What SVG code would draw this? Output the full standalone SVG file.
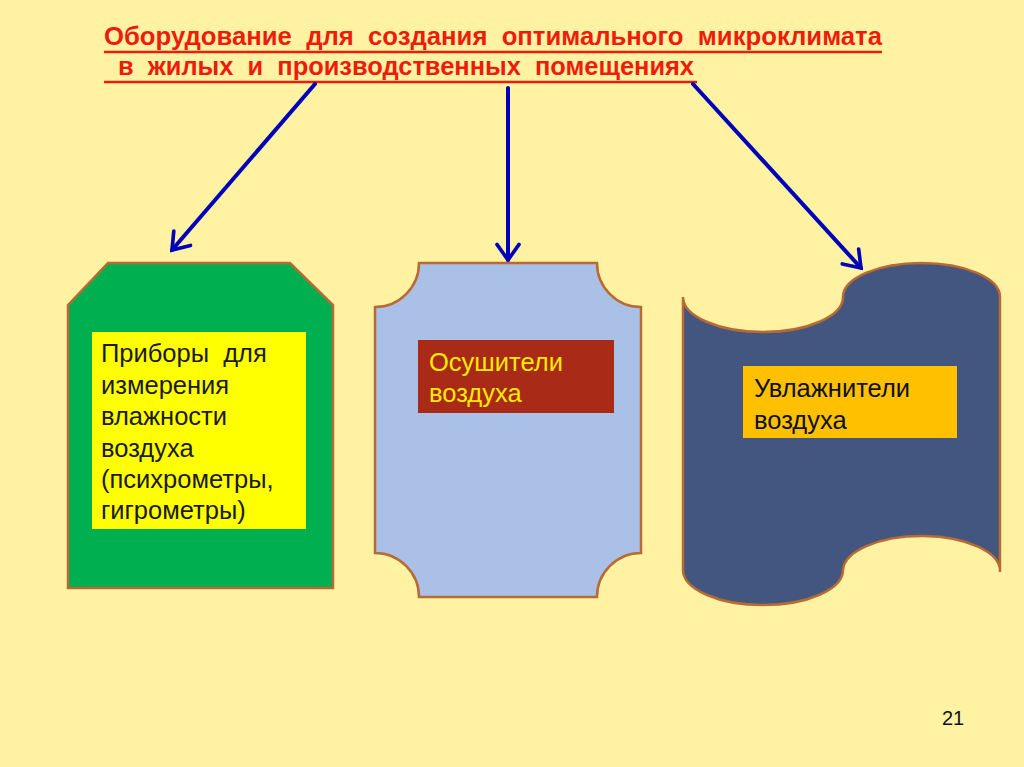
<svg xmlns="http://www.w3.org/2000/svg" width="1024" height="767" viewBox="0 0 1024 767">
<style>
.title{font-family:"Liberation Sans Narrow","Arial Narrow","Liberation Sans",sans-serif;font-weight:bold;font-size:25px;fill:#ee1c0c;white-space:pre}
.body{font-family:"Liberation Sans",Arial,sans-serif;font-size:25.5px;white-space:pre}
.shape{stroke:#b86a34;stroke-width:2.5}
.conn{stroke:#0000bb;stroke-width:4;fill:none;stroke-linecap:round}
</style>
<defs>
<marker id="ah" viewBox="0 0 20 20" refX="17" refY="10" markerWidth="6.5" markerHeight="6.5" markerUnits="strokeWidth" orient="auto">
<path d="M5,1.5 L17,10 L5,18.5" fill="none" stroke="#0000bb" stroke-width="2.8" stroke-linecap="round" stroke-linejoin="miter"/>
</marker>
</defs>
<rect width="1024" height="767" fill="#fff2a2"/>
<g id="title">
<text class="title" x="104" y="45" textLength="778" lengthAdjust="spacingAndGlyphs">Оборудование  для  создания  оптимального  микроклимата</text>
<line x1="104" y1="52" x2="882" y2="52" stroke="#ee1c0c" stroke-width="2.5"/>
<text class="title" x="118" y="75" textLength="576" lengthAdjust="spacingAndGlyphs">в  жилых  и  производственных  помещениях</text>
<line x1="104" y1="82" x2="697" y2="82" stroke="#ee1c0c" stroke-width="2.5"/>
</g>
<g id="connectors">
<line class="conn" x1="315" y1="84" x2="172" y2="250" marker-end="url(#ah)"/>
<line class="conn" x1="508" y1="88" x2="508" y2="260" marker-end="url(#ah)"/>
<line class="conn" x1="693" y1="84" x2="861" y2="268" marker-end="url(#ah)"/>
</g>
<g id="node-pribory">
<polygon class="shape" points="68,305 108,263 290,263 333,305 333,588 68,588" fill="#00b050"/>
<rect x="92" y="332" width="214" height="197" fill="#ffff00"/>
<text class="body" fill="#1a1a1a"><tspan x="101" y="362">Приборы  для</tspan><tspan x="101" y="394">измерения</tspan><tspan x="101" y="425">влажности</tspan><tspan x="101" y="457">воздуха</tspan><tspan x="101" y="488">(психрометры,</tspan><tspan x="101" y="519">гигрометры)</tspan></text>
</g>
<g id="node-osushiteli">
<path class="shape" fill="#abc0e6" d="M419,263 L597,263 A44,44 0 0 0 641,307 L641,553 A44,44 0 0 0 597,597 L419,597 A44,44 0 0 0 375,553 L375,307 A44,44 0 0 0 419,263 Z"/>
<rect x="418" y="340" width="196" height="73" fill="#a82a17"/>
<text class="body" fill="#ffea00"><tspan x="429" y="371">Осушители</tspan><tspan x="429" y="402">воздуха</tspan></text>
</g>
<g id="node-uvlazhniteli">
<path class="shape" fill="#425680" d="M683,297 A80,35 0 0 0 843,297 A78.5,34 0 0 1 1000,297 L1000,572 A78.5,35 0 0 0 843,570 A80,35 0 0 1 683,570 Z"/>
<rect x="743" y="366" width="214" height="72" fill="#ffc000"/>
<text class="body" fill="#111"><tspan x="754" y="397">Увлажнители</tspan><tspan x="754" y="429">воздуха</tspan></text>
</g>
<text class="body" x="942" y="725" fill="#111" style="font-size:20px">21</text>
</svg>
